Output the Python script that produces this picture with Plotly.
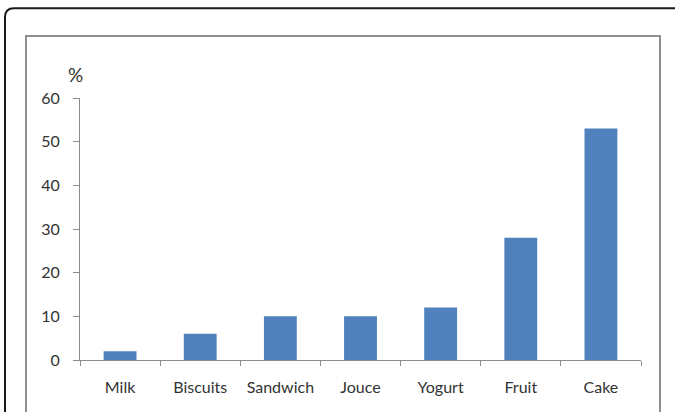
import plotly.graph_objects as go

categories = ["Milk", "Biscuits", "Sandwich", "Jouce", "Yogurt", "Fruit", "Cake"]
percent = [2, 6, 10, 10, 12, 28, 53]
y_ticks = [0, 10, 20, 30, 40, 50, 60]

W, H = 675, 412
ML, MR, MT, MB = 80, 34, 98, 51.5
PW, PH = W - ML - MR, H - MT - MB


def px(x):
    return (x - ML) / PW


def py(y):
    return (H - MB - y) / PH


fig = go.Figure(
    go.Bar(
        x=categories,
        y=percent,
        marker=dict(color="#4F81BD", line=dict(width=0)),
        width=0.41,
    )
)

# outer frame with rounded top-left corner, running off the right and bottom
r = 9
outer = (
    f"M {px(5)},{py(430)} L {px(5)},{py(8 + r)} "
    f"Q {px(5)},{py(8)} {px(5 + r)},{py(8)} L {px(700)},{py(8)}"
)
# inner chart frame
inner = (
    f"M {px(26)},{py(430)} L {px(26)},{py(36)} "
    f"L {px(660)},{py(36)} L {px(660)},{py(430)}"
)

label_font = dict(family="Lato, Open Sans, sans-serif", size=16, color="#333333")

fig.update_layout(
    width=W,
    height=H,
    margin=dict(l=ML, r=MR, t=MT, b=MB),
    paper_bgcolor="white",
    plot_bgcolor="white",
    showlegend=False,
    font=label_font,
    bargap=0.59,
    xaxis=dict(
        range=[-0.5, 6.5],
        showline=True,
        linecolor="#8c8c8c",
        linewidth=1,
        ticks="outside",
        tickson="boundaries",
        ticklen=5,
        tickcolor="#8c8c8c",
        tickfont=label_font,
        ticklabelstandoff=13,
        showgrid=False,
        zeroline=False,
        fixedrange=True,
    ),
    yaxis=dict(
        range=[0, 60],
        tickvals=y_ticks,
        showline=True,
        linecolor="#8c8c8c",
        linewidth=1,
        ticks="outside",
        ticklen=6,
        tickcolor="#8c8c8c",
        tickfont=label_font,
        ticklabelstandoff=10,
        showgrid=False,
        zeroline=False,
        fixedrange=True,
    ),
    shapes=[
        dict(type="path", xref="paper", yref="paper", path=outer,
             line=dict(color="#1a1a1a", width=2)),
        dict(type="path", xref="paper", yref="paper", path=inner,
             line=dict(color="#8f8f8f", width=2)),
    ],
    annotations=[
        dict(text="%", xref="paper", yref="paper", x=px(75.5), y=py(74),
             showarrow=False, font=dict(size=19, color="#333333"),
             xanchor="center", yanchor="middle"),
    ],
)

fig.write_html("out.html")
